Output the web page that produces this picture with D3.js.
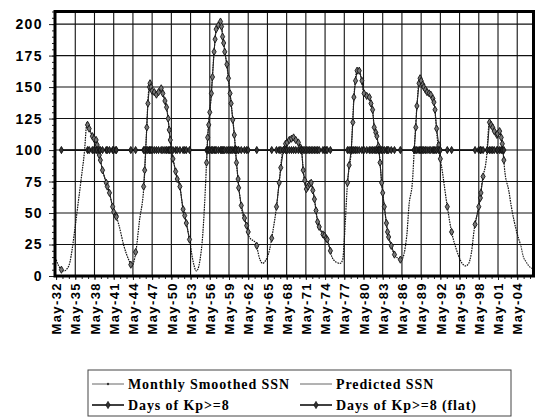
<!DOCTYPE html>
<html>
<head>
<meta charset="utf-8">
<script src="https://cdn.jsdelivr.net/npm/d3@7"></script>
<style>
  body { margin: 0; background: #fff; }
  svg { display: block; }
</style>
</head>
<body>
<script>
// smoothed sunspot number
var ssnDates = [
  "1932-05","1932-10","1933-03","1933-08","1934-02","1934-07","1934-11","1935-06","1935-11","1936-04",
  "1936-10","1937-03","1937-08","1938-01","1938-08","1939-02","1939-08","1940-03","1940-09","1941-05",
  "1941-10","1942-03","1942-12","1943-10","1944-03","1944-11","1945-05","1946-02","1946-06","1946-10",
  "1947-01","1947-05","1948-01","1948-10","1949-03","1949-08","1950-01","1950-05","1950-11","1951-04",
  "1951-08","1952-02","1952-09","1953-03","1953-09","1954-04","1955-01","1955-05","1955-09","1956-01",
  "1956-07","1957-01","1957-05","1958-01","1958-07","1959-04","1959-09","1960-03","1960-07","1961-01",
  "1961-06","1962-02","1962-07","1963-07","1964-03","1964-08","1965-01","1965-09","1966-03","1966-10",
  "1967-03","1967-09","1968-03","1968-10","1969-06","1970-03","1970-09","1970-12","1971-06","1972-03",
  "1972-09","1973-03","1974-01","1974-09","1975-06","1976-02","1976-09","1977-02","1977-05","1977-11",
  "1978-06","1978-11","1979-05","1979-09","1980-06","1981-04","1981-10","1982-01","1982-06","1982-10",
  "1983-03","1983-08","1984-02","1984-09","1985-03","1986-04","1987-02","1987-06","1988-01","1988-04",
  "1988-09","1989-02","1989-08","1990-04","1990-11","1991-05","1991-11","1992-09","1993-06","1994-02",
  "1994-11","1995-10","1996-04","1996-10","1997-03","1997-09","1998-06","1998-12","1999-07","2000-01",
  "2000-07","2001-03","2001-08","2002-01","2002-06","2003-01","2003-06","2004-04","2004-12"
];
var ssnValues = [
  13, 8, 5, 4, 6, 11, 21, 43, 60, 77,
  98, 122, 116, 111, 108, 96, 84, 74, 66, 51,
  47, 40, 24, 12, 8, 21, 43, 75, 110, 145,
  153, 147, 144, 149, 142, 134, 116, 100, 87, 77,
  74, 55, 42, 29, 13, 4, 20, 40, 72, 110,
  140, 178, 196, 202, 185, 157, 137, 112, 90, 64,
  50, 40, 31, 26, 13, 10, 12, 21, 35, 55,
  74, 98, 105, 108, 110, 106, 100, 84, 69, 74,
  61, 43, 33, 29, 15, 11, 10, 13, 29, 74,
  100, 142, 163, 163, 145, 142, 132, 118, 111, 100,
  74, 55, 35, 24, 17, 13, 32, 55, 77, 100,
  135, 157, 152, 146, 144, 138, 110, 82, 55, 35,
  21, 10, 8, 10, 18, 39, 57, 77, 92, 122,
  118, 112, 115, 105, 82, 68, 55, 35, 24
];

// predicted tail
var predDates = ["2004-12","2005-04","2005-10","2006-05","2006-10"];
var predValues = [24, 16, 11, 7, 6];

// months with Kp>=8 days, plotted on the SSN value
var kpDates = [
  "1933-03","1937-04","1937-07","1938-01","1938-04","1938-08","1938-10","1939-02","1939-04","1939-08",
  "1940-03","1940-05","1940-09","1941-03","1941-05","1941-09","1941-10","1944-01","1944-10",
  "1946-01","1946-03","1946-07","1946-09","1946-12","1947-01","1947-03","1947-05","1947-09","1948-01",
  "1948-05","1948-10","1949-01","1949-05","1949-08","1949-11","1950-01","1950-03","1950-08","1951-01",
  "1951-04","1951-09","1952-03","1952-06","1952-09","1953-03",
  "1955-11","1956-01","1956-03","1956-05","1956-08","1956-10","1957-01","1957-03","1957-05","1957-09",
  "1958-01","1958-03","1958-05","1958-07","1958-09","1959-01","1959-04","1959-07","1959-09","1959-12",
  "1960-03","1960-05","1960-07","1960-10","1960-11","1961-04","1961-10","1962-02","1962-05","1963-09",
  "1966-01","1966-10","1967-03","1967-06","1967-11","1968-03","1968-06","1968-10","1969-02","1969-06",
  "1969-10","1970-03","1970-07","1970-09","1970-12","1971-03","1971-06","1971-09","1971-12","1972-03",
  "1972-06","1972-09","1972-12","1973-03","1973-06","1974-01","1974-04","1974-07","1974-09","1975-03",
  "1977-11","1978-02","1978-06","1978-09","1978-11","1979-02","1979-05","1979-09","1980-02","1980-06",
  "1980-11","1981-04","1981-07","1981-10","1982-01","1982-04","1982-06","1982-09","1982-10","1982-12",
  "1983-03","1983-05","1983-08","1983-12","1984-02","1984-04","1984-09","1985-03","1986-02",
  "1988-04","1988-07","1988-09","1989-01","1989-03","1989-05","1989-08","1989-10","1990-01","1990-04",
  "1990-08","1990-11","1991-03","1991-05","1991-07","1991-10","1992-02","1992-05","1993-06","1994-02",
  "1997-10","1998-05","1998-08","1998-09","1999-01","1999-09","2000-01","2000-04","2000-07","2000-10",
  "2001-03","2001-04","2001-08","2001-11","2002-01","2002-04"
];
var kpValues = [
  5, 120, 117, 111, 109, 108, 104, 96, 92, 84,
  74, 71, 66, 55, 51, 48, 47, 9, 19,
  71, 84, 118, 137, 150, 153, 150, 147, 146, 144,
  146, 149, 145, 139, 134, 125, 116, 108, 93, 83,
  77, 71, 53, 48, 42, 29,
  90, 110, 120, 130, 145, 158, 178, 188, 196, 199,
  202, 198, 190, 185, 178, 168, 157, 145, 137, 124,
  112, 101, 90, 77, 70, 56, 46, 40, 35, 24,
  30, 55, 74, 86, 100, 105, 106, 108, 109, 110,
  108, 106, 102, 100, 84, 76, 69, 71, 73, 74,
  68, 61, 52, 43, 39, 33, 32, 30, 29, 20,
  74, 88, 100, 122, 142, 155, 163, 163, 155, 145,
  143, 142, 137, 132, 118, 114, 111, 103, 100, 90,
  74, 66, 55, 42, 35, 31, 24, 17, 13,
  100, 118, 135, 153, 157, 155, 152, 150, 148, 146,
  145, 144, 141, 138, 132, 117, 104, 93, 55, 35,
  41, 55, 62, 66, 79, 100, 122, 120, 118, 115,
  112, 113, 115, 110, 105, 92
];
// same months, drawn on a flat level
var kpFlat = [
  100,100,100,100,100,100,100,100,100,100,
  100,100,100,100,100,100,100,100,100,100,
  100,100,100,100,100,100,100,100,100,100,
  100,100,100,100,100,100,100,100,100,100,
  100,100,100,100,100,100,100,100,100,100,
  100,100,100,100,100,100,100,100,100,100,
  100,100,100,100,100,100,100,100,100,100,
  100,100,100,100,100,100,100,100,100,100,
  100,100,100,100,100,100,100,100,100,100,
  100,100,100,100,100,100,100,100,100,100,
  100,100,100,100,100,100,100,100,100,100,
  100,100,100,100,100,100,100,100,100,100,
  100,100,100,100,100,100,100,100,100,100,
  100,100,100,100,100,100,100,100,100,100,
  100,100,100,100,100,100,100,100,100,100,
  100,100,100,100,100,100,100,100,100,100,
  100,100,100,100,100,100,100,100,100,100
];

var tickLabels = ["May-32","May-35","May-38","May-41","May-44","May-47","May-50","May-53","May-56",
  "May-59","May-62","May-65","May-68","May-71","May-74","May-77","May-80","May-83","May-86",
  "May-89","May-92","May-95","May-98","May-01","May-04"];
var yTicks = [0, 25, 50, 75, 100, 125, 150, 175, 200];
var legendNames = ["Monthly Smoothed SSN", "Predicted SSN", "Days of Kp>=8", "Days of Kp>=8 (flat)"];

var width = 538, height = 417;
var plotL = 55, plotR = 533.5, plotT = 11.5, plotB = 276;

var parseMonth = d3.timeParse("%Y-%m");
// "May-32" -> May 1932, "May-04" -> May 2004
function parseLabel(s) {
  var yy = +s.split("-")[1];
  return new Date(yy >= 30 ? 1900 + yy : 2000 + yy, 4, 1);
}

var svg = d3.select("body").append("svg")
  .attr("width", width)
  .attr("height", height);

var x = d3.scaleTime()
  .domain([new Date(1932, 2, 1), new Date(2006, 10, 15)])
  .range([plotL, plotR]);
var y = d3.scaleLinear()
  .domain([0, 210])
  .range([plotB, plotT]);

var tickDates = tickLabels.map(parseLabel);

// grid
svg.append("g").selectAll("line")
  .data(yTicks.slice(1))
  .enter().append("line")
  .attr("x1", plotL).attr("x2", plotR)
  .attr("y1", function(d){ return y(d); })
  .attr("y2", function(d){ return y(d); })
  .attr("stroke", "#111").attr("stroke-width", 1.1);

svg.append("g").selectAll("line")
  .data(tickDates.slice(1))
  .enter().append("line")
  .attr("x1", function(d){ return x(d); })
  .attr("x2", function(d){ return x(d); })
  .attr("y1", plotT).attr("y2", plotB)
  .attr("stroke", "#111").attr("stroke-width", 1.1);

// y axis: minor + major ticks
var yMinor = d3.axisLeft(y).tickValues(d3.range(0, 211, 5)).tickSize(3).tickFormat("");
var yMajor = d3.axisLeft(y).tickValues(yTicks).tickSize(6).tickPadding(6);
var gyMinor = svg.append("g").attr("transform", "translate(" + plotL + ",0)").call(yMinor);
var gy = svg.append("g").attr("transform", "translate(" + plotL + ",0)").call(yMajor);
[gyMinor, gy].forEach(function(g){
  g.select(".domain").remove();
  g.selectAll("line").attr("stroke", "#222");
});
gy.selectAll("text")
  .attr("fill", "#000")
  .style("font-family", "Liberation Sans, Arial, sans-serif")
  .style("font-weight", "bold")
  .style("font-size", "14px")
  .style("letter-spacing", "1.4px");

// x axis: yearly small ticks + labels every 3 years
var yearTicks = d3.timeMonths(new Date(1932, 4, 1), new Date(2006, 11, 1), 12);
var gxMinor = svg.append("g").attr("transform", "translate(0," + plotB + ")")
  .call(d3.axisBottom(x).tickValues(yearTicks).tickSize(3).tickFormat(""));
gxMinor.select(".domain").remove();
gxMinor.selectAll("line").attr("stroke", "#222");

var gx = svg.append("g").attr("transform", "translate(0," + plotB + ")")
  .call(d3.axisBottom(x).tickValues(tickDates).tickSize(4)
    .tickFormat(function(d, i){ return tickLabels[i]; }));
gx.select(".domain").remove();
gx.selectAll("line").attr("stroke", "#222");
gx.selectAll("text")
  .attr("fill", "#000")
  .attr("transform", "rotate(-90)")
  .attr("text-anchor", "end")
  .attr("x", -6)
  .attr("y", 0)
  .attr("dy", "0.36em")
  .style("font-family", "Liberation Sans, Arial, sans-serif")
  .style("font-weight", "bold")
  .style("font-size", "13px")
  .style("letter-spacing", "1.4px");

// series
var ssn = ssnDates.map(function(d, i){ return { date: parseMonth(d), v: ssnValues[i] }; });
var pred = predDates.map(function(d, i){ return { date: parseMonth(d), v: predValues[i] }; });
var kp = kpDates.map(function(d, i){ return { date: parseMonth(d), v: kpValues[i], f: kpFlat[i] }; });

var plot = svg.append("g");

var ssnLine = d3.line()
  .x(function(d){ return x(d.date); })
  .y(function(d){ return y(d.v); })
  .curve(d3.curveMonotoneX);

plot.append("path")
  .datum(ssn)
  .attr("d", ssnLine)
  .attr("fill", "none")
  .attr("stroke", "#111")
  .attr("stroke-width", 1.2)
  .attr("stroke-dasharray", "1.6,0.9");

plot.append("path")
  .datum(pred)
  .attr("d", ssnLine)
  .attr("fill", "none")
  .attr("stroke", "#333")
  .attr("stroke-width", 1.1)
  .attr("stroke-dasharray", "1.6,0.9");

// kp on SSN: break the line where months are far apart
var kpBroken = [];
kp.forEach(function(d, i){
  if (i > 0 && d3.timeMonth.count(kp[i-1].date, d.date) > 7) kpBroken.push(null);
  kpBroken.push(d);
});
plot.append("path")
  .datum(kpBroken)
  .attr("d", d3.line()
    .defined(function(d){ return d !== null; })
    .x(function(d){ return x(d.date); })
    .y(function(d){ return y(d.v); }))
  .attr("fill", "none")
  .attr("stroke", "#222")
  .attr("stroke-width", 1);

plot.append("path")
  .datum(kp)
  .attr("d", d3.line()
    .x(function(d){ return x(d.date); })
    .y(function(d){ return y(d.f); }))
  .attr("fill", "none")
  .attr("stroke", "#111")
  .attr("stroke-width", 1.8);

var diamond = d3.symbol().type(d3.symbolDiamond).size(15);

plot.selectAll("path.kp")
  .data(kp)
  .enter().append("path")
  .attr("class", "kp")
  .attr("d", diamond)
  .attr("transform", function(d){ return "translate(" + x(d.date) + "," + y(d.v) + ")"; })
  .attr("fill", "#777")
  .attr("stroke", "#111")
  .attr("stroke-width", 0.9);

plot.selectAll("path.kpf")
  .data(kp)
  .enter().append("path")
  .attr("class", "kpf")
  .attr("d", diamond)
  .attr("transform", function(d){ return "translate(" + x(d.date) + "," + y(d.f) + ")"; })
  .attr("fill", "#333")
  .attr("stroke", "#111")
  .attr("stroke-width", 0.9);

// frame
svg.append("rect")
  .attr("x", plotL).attr("y", plotT)
  .attr("width", plotR - plotL).attr("height", plotB - plotT)
  .attr("fill", "none")
  .attr("stroke", "#000")
  .attr("stroke-width", 3);

// legend
var lg = svg.append("g");
lg.append("rect")
  .attr("x", 88).attr("y", 370)
  .attr("width", 423).attr("height", 46)
  .attr("fill", "#fff")
  .attr("stroke", "#444")
  .attr("stroke-width", 1);

var legendPos = [[92, 384], [300, 384], [92, 405], [300, 405]];
legendNames.forEach(function(name, i){
  var p = legendPos[i];
  var g = lg.append("g").attr("transform", "translate(" + p[0] + "," + p[1] + ")");
  var kpStyle = i >= 2;
  g.append("line")
    .attr("x1", 0).attr("x2", 32)
    .attr("stroke", kpStyle ? "#111" : "#666")
    .attr("stroke-width", kpStyle ? 1.6 : 1);
  if (i === 0) {
    g.append("circle").attr("cx", 16).attr("r", 1.2).attr("fill", "#333");
  }
  if (kpStyle) {
    g.append("path").attr("d", diamond).attr("transform", "translate(16,0)")
      .attr("fill", "#333").attr("stroke", "#111").attr("stroke-width", 0.8);
  }
  g.append("text")
    .attr("x", 36)
    .attr("dy", "0.35em")
    .text(name)
    .style("font-family", "Liberation Serif, Times New Roman, serif")
    .style("font-weight", "bold")
    .style("font-size", "14px")
    .style("letter-spacing", "0.9px");
});
</script>
</body>
</html>
